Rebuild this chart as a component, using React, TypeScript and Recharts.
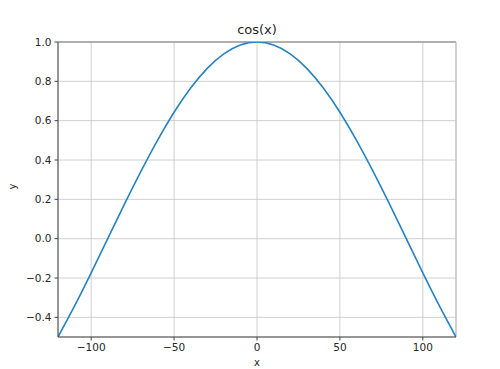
import { LineChart, Line, XAxis, YAxis, CartesianGrid, ReferenceLine } from "recharts";

// x values (degrees) and cos values
const xs = [-120, -110, -100, -90, -80, -70, -60, -50, -40, -30, -20, -10, 0, 10, 20, 30, 40, 50, 60, 70, 80, 90, 100, 110, 120];
const ys = [-0.5, -0.342, -0.174, 0.0, 0.174, 0.342, 0.5, 0.643, 0.766, 0.866, 0.94, 0.985, 1.0, 0.985, 0.94, 0.866, 0.766, 0.643, 0.5, 0.342, 0.174, 0.0, -0.174, -0.342, -0.5];
const xTicks = [-100, -50, 0, 50, 100];
const yTicks = [-0.4, -0.2, 0.0, 0.2, 0.4, 0.6, 0.8, 1.0];

const data = xs.map((x, i) => ({ x, y: ys[i] }));

const minus = (s: string) => s.replace("-", "\u2212");
const font = "DejaVu Sans, sans-serif";
const tickStyle = { fontSize: 10.5, fill: "#262626", fontFamily: font };

export default function App() {
  return (
    <div style={{ position: "absolute", left: 0, top: 0, width: 500, height: 369, background: "#fff" }}>
      <div
        style={{
          position: "absolute",
          left: 157,
          width: 200,
          top: 22,
          textAlign: "center",
          fontFamily: font,
          fontSize: 13,
          color: "#262626",
        }}
      >
        cos(x)
      </div>
      <LineChart width={500} height={369} data={data} margin={{ top: 42, right: 44, bottom: 0, left: 8 }}>
        <CartesianGrid stroke="#c4c4c4" strokeWidth={0.8} />
        <XAxis
          dataKey="x"
          type="number"
          domain={[-120, 120]}
          ticks={xTicks}
          allowDataOverflow
          height={32}
          tick={tickStyle}
          tickFormatter={(v: number) => minus(String(v))}
          tickSize={3.5}
          tickMargin={3}
          stroke="#444"
          label={{ value: "x", position: "insideBottom", offset: 3, style: { fontSize: 10, fill: "#262626", fontFamily: font } }}
        />
        <YAxis
          type="number"
          domain={[-0.5, 1.0]}
          ticks={yTicks}
          allowDataOverflow
          width={50}
          tick={tickStyle}
          tickFormatter={(v: number) => minus(v.toFixed(1))}
          tickSize={3.5}
          tickMargin={3}
          stroke="#444"
          label={{ value: "y", angle: -90, position: "insideLeft", offset: 4, style: { fontSize: 10, fill: "#262626", fontFamily: font } }}
        />
        <ReferenceLine y={1.0} stroke="#777" strokeWidth={1} />
        <ReferenceLine x={120} stroke="#bbb" strokeWidth={1} />
        <Line type="natural" dataKey="y" stroke="#2683c0" strokeWidth={1.6} dot={false} isAnimationActive={false} />
      </LineChart>
    </div>
  );
}
